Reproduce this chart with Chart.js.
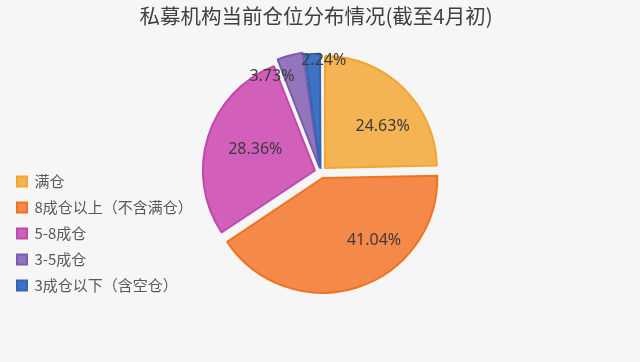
<!DOCTYPE html>
<html>
<head>
<meta charset="utf-8">
<script src="https://cdn.jsdelivr.net/npm/chart.js@4/dist/chart.umd.min.js"></script>
<style>
html,body{margin:0;padding:0;background:#f6f6f6;}
#wrap{width:640px;height:362px;}
</style>
</head>
<body>
<div id="wrap"><canvas id="c" width="640" height="362"></canvas></div>
<script>
const titleText = '私募机构当前仓位分布情况(截至4月初)';
const categories = ['满仓', '8成仓以上（不含满仓）', '5-8成仓', '3-5成仓', '3成仓以下（含空仓）'];
const shares = [24.63, 41.04, 28.36, 3.73, 2.24];

const fillColors = ['#F5B454', '#F5894A', '#D25FB9', '#9275BB', '#3F72C2'];
const borderColors = ['#F2A630', '#F07323', '#C04AAA', '#7A5CAE', '#3464B4'];
const sliceOffsets = [24, 24, 24, 20, 14];
// label placement: fraction along slice angle, fraction of radius
const labelAngleFrac = [0.6, 0.36, 0.52, -0.41, 1.19];
const labelRadiusFrac = [0.69, 0.77, 0.62, 0.96, 1.0];

const bgPlugin = {
  id: 'bg',
  beforeDraw(chart) {
    const ctx = chart.ctx;
    ctx.save();
    ctx.fillStyle = '#f6f6f6';
    ctx.fillRect(0, 0, chart.width, chart.height);
    ctx.restore();
  }
};

const labelPlugin = {
  id: 'sliceLabels',
  afterDatasetsDraw(chart) {
    const ctx = chart.ctx;
    const meta = chart.getDatasetMeta(0);
    ctx.save();
    ctx.font = '16px "Noto Sans", "DejaVu Sans", sans-serif';
    ctx.fillStyle = '#3b3b3b';
    ctx.textAlign = 'center';
    ctx.textBaseline = 'middle';
    meta.data.forEach((arc, i) => {
      const p = arc.getProps(['x', 'y', 'startAngle', 'endAngle', 'outerRadius'], true);
      const a = p.startAngle + labelAngleFrac[i] * (p.endAngle - p.startAngle);
      const r = labelRadiusFrac[i] * p.outerRadius;
      ctx.fillText(shares[i].toFixed(2) + '%', p.x + Math.cos(a) * r, p.y + Math.sin(a) * r);
    });
    ctx.restore();
  }
};

new Chart(document.getElementById('c'), {
  type: 'pie',
  data: {
    labels: categories,
    datasets: [{
      data: shares,
      backgroundColor: fillColors,
      borderColor: borderColors,
      borderWidth: 2,
      offset: sliceOffsets,
      hoverOffset: 0
    }]
  },
  options: {
    responsive: false,
    animation: false,
    radius: 112,
    layout: { padding: { left: 6, right: 14, top: 0, bottom: 58 } },
    plugins: {
      title: {
        display: true,
        text: titleText,
        color: '#404040',
        font: { family: '"Noto Sans CJK SC", sans-serif', size: 20.5, weight: 'normal' },
        padding: { top: 4, bottom: 12 }
      },
      subtitle: {
        display: true,
        position: 'right',
        fullSize: false,
        text: ' ',
        font: { size: 12 },
        padding: { top: 0, bottom: 173 }
      },
      legend: {
        position: 'left',
        align: 'end',
        maxWidth: 200,
        labels: {
          color: '#595959',
          font: { family: '"Noto Sans CJK SC", sans-serif', size: 15 },
          boxWidth: 10,
          boxHeight: 10,
          padding: 11
        }
      },
      tooltip: { enabled: false }
    }
  },
  plugins: [bgPlugin, labelPlugin]
});
</script>
</body>
</html>
